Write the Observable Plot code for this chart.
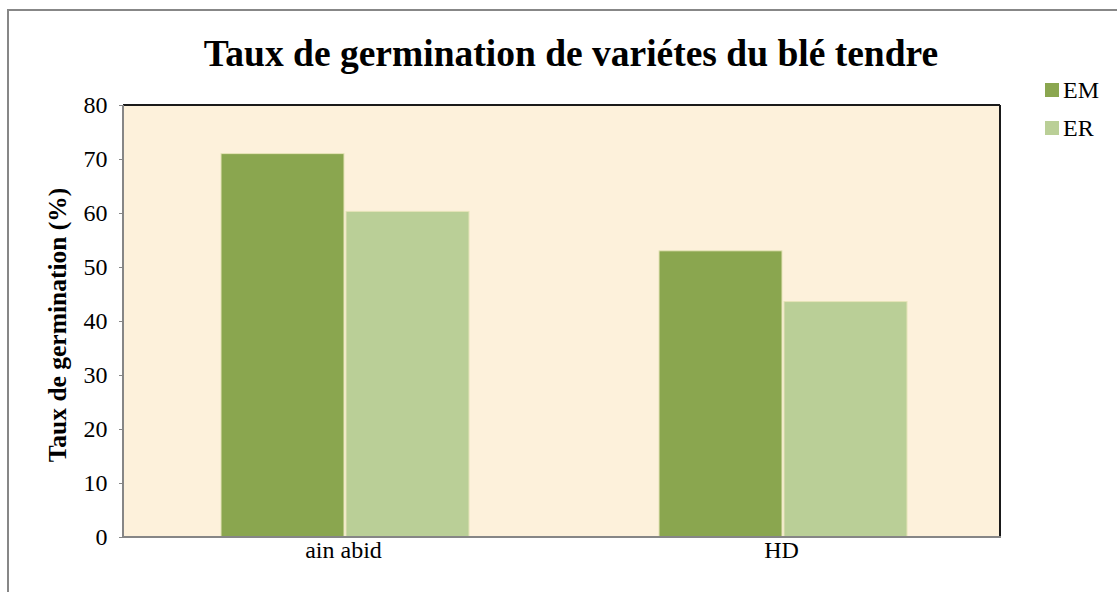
<!DOCTYPE html>
<html>
<head>
<meta charset="utf-8">
<script src="https://cdn.jsdelivr.net/npm/d3@7"></script>
<script src="https://cdn.jsdelivr.net/npm/@observablehq/plot@0.6"></script>
<style>
  html, body { margin: 0; padding: 0; background: #fff; overflow: hidden; }
  #wrap { position: relative; width: 1117px; height: 592px; font-family: "Liberation Serif", "Times New Roman", serif; }
  #outer { position: absolute; left: 7px; top: 9px; width: 2000px; height: 2000px; border-left: 2px solid #878787; border-top: 2px solid #878787; }
  #title { position: absolute; left: 0; width: 1142px; top: 32px; text-align: center; font-weight: bold; font-size: 37.5px; color: #000; white-space: nowrap; }
  #ylabel { position: absolute; left: 58px; top: 325px; transform: translate(-50%, -50%) rotate(-90deg); font-weight: bold; font-size: 25.5px; white-space: nowrap; color: #000; }
  #legend { position: absolute; left: 1045px; top: 71px; font-size: 24px; color: #000; }
  #legend .item { display: flex; align-items: center; height: 38px; }
  #legend .sw { width: 14px; height: 14px; margin-right: 4px; }
  #chart svg text { fill: #000; }
</style>
</head>
<body>
<div id="wrap">
  <div id="outer"></div>
  <div id="chart"></div>
  <div id="title"></div>
  <div id="ylabel"></div>
  <div id="legend"></div>
</div>
<script>
const title = "Taux de germination de variétes du blé tendre";
const yLabel = "Taux de germination (%)";
const categories = ["ain abid", "HD"];
const series = ["EM", "ER"];
const valuesEM = [71, 53];
const valuesER = [60.3, 43.6];
const yTicks = [0, 10, 20, 30, 40, 50, 60, 70, 80];
const colors = ["#8AA64F", "#BACF97"];

const data = [];
categories.forEach((c, i) => {
  data.push({cat: c, series: "EM", value: valuesEM[i]});
  data.push({cat: c, series: "ER", value: valuesER[i]});
});

const W = 1117, H = 592, ML = 123, MR = 117, MT = 105, MB = 55;

const chart = Plot.plot({
  width: W, height: H,
  marginLeft: ML, marginRight: MR, marginTop: MT, marginBottom: MB,
  style: { fontFamily: "'Liberation Serif', 'Times New Roman', serif", fontSize: "24px", color: "#868686", background: "transparent", overflow: "visible" },
  fx: { domain: categories, padding: 0, label: null, axis: "bottom", tickSize: 0, tickPadding: 3 },
  x: { domain: series, paddingInner: 0.016, paddingOuter: 0.75, align: 0.51, axis: null },
  y: { domain: [0, 80], ticks: yTicks, tickSize: 5, tickPadding: 12, label: null },
  color: { domain: series, range: colors },
  marks: [
    Plot.barY(data, { fx: "cat", x: "series", y: "value", fill: "series", stroke: "#E6E4B8", strokeWidth: 1 })
  ]
});
document.getElementById("chart").appendChild(chart);

// plot area background and outline
const svg = d3.select(chart);
const ys = chart.scale("y");
const yTop = ys.apply(80), yBot = ys.apply(0);
const xL = ML, xR = W - MR;
svg.insert("rect", ":first-child")
  .attr("x", xL).attr("y", yTop).attr("width", xR - xL).attr("height", yBot - yTop)
  .attr("fill", "#FDF1DB");
const g = svg.append("g");
g.append("line").attr("x1", xL).attr("x2", xR).attr("y1", yTop).attr("y2", yTop).attr("stroke", "#1a1a1a").attr("stroke-width", 2);
g.append("line").attr("x1", xR).attr("x2", xR).attr("y1", yTop).attr("y2", yBot).attr("stroke", "#1a1a1a").attr("stroke-width", 2);
g.append("line").attr("x1", xL).attr("x2", xL).attr("y1", yTop).attr("y2", yBot).attr("stroke", "#868686").attr("stroke-width", 2);
g.append("line").attr("x1", xL - 1).attr("x2", xR + 1).attr("y1", yBot).attr("y2", yBot).attr("stroke", "#868686").attr("stroke-width", 2);

document.getElementById("title").textContent = title;
document.getElementById("ylabel").textContent = yLabel;
const leg = document.getElementById("legend");
series.forEach((s, i) => {
  const it = document.createElement("div");
  it.className = "item";
  const sw = document.createElement("div");
  sw.className = "sw";
  sw.style.background = colors[i];
  const t = document.createElement("span");
  t.textContent = s;
  it.appendChild(sw); it.appendChild(t);
  leg.appendChild(it);
});
</script>
</body>
</html>
